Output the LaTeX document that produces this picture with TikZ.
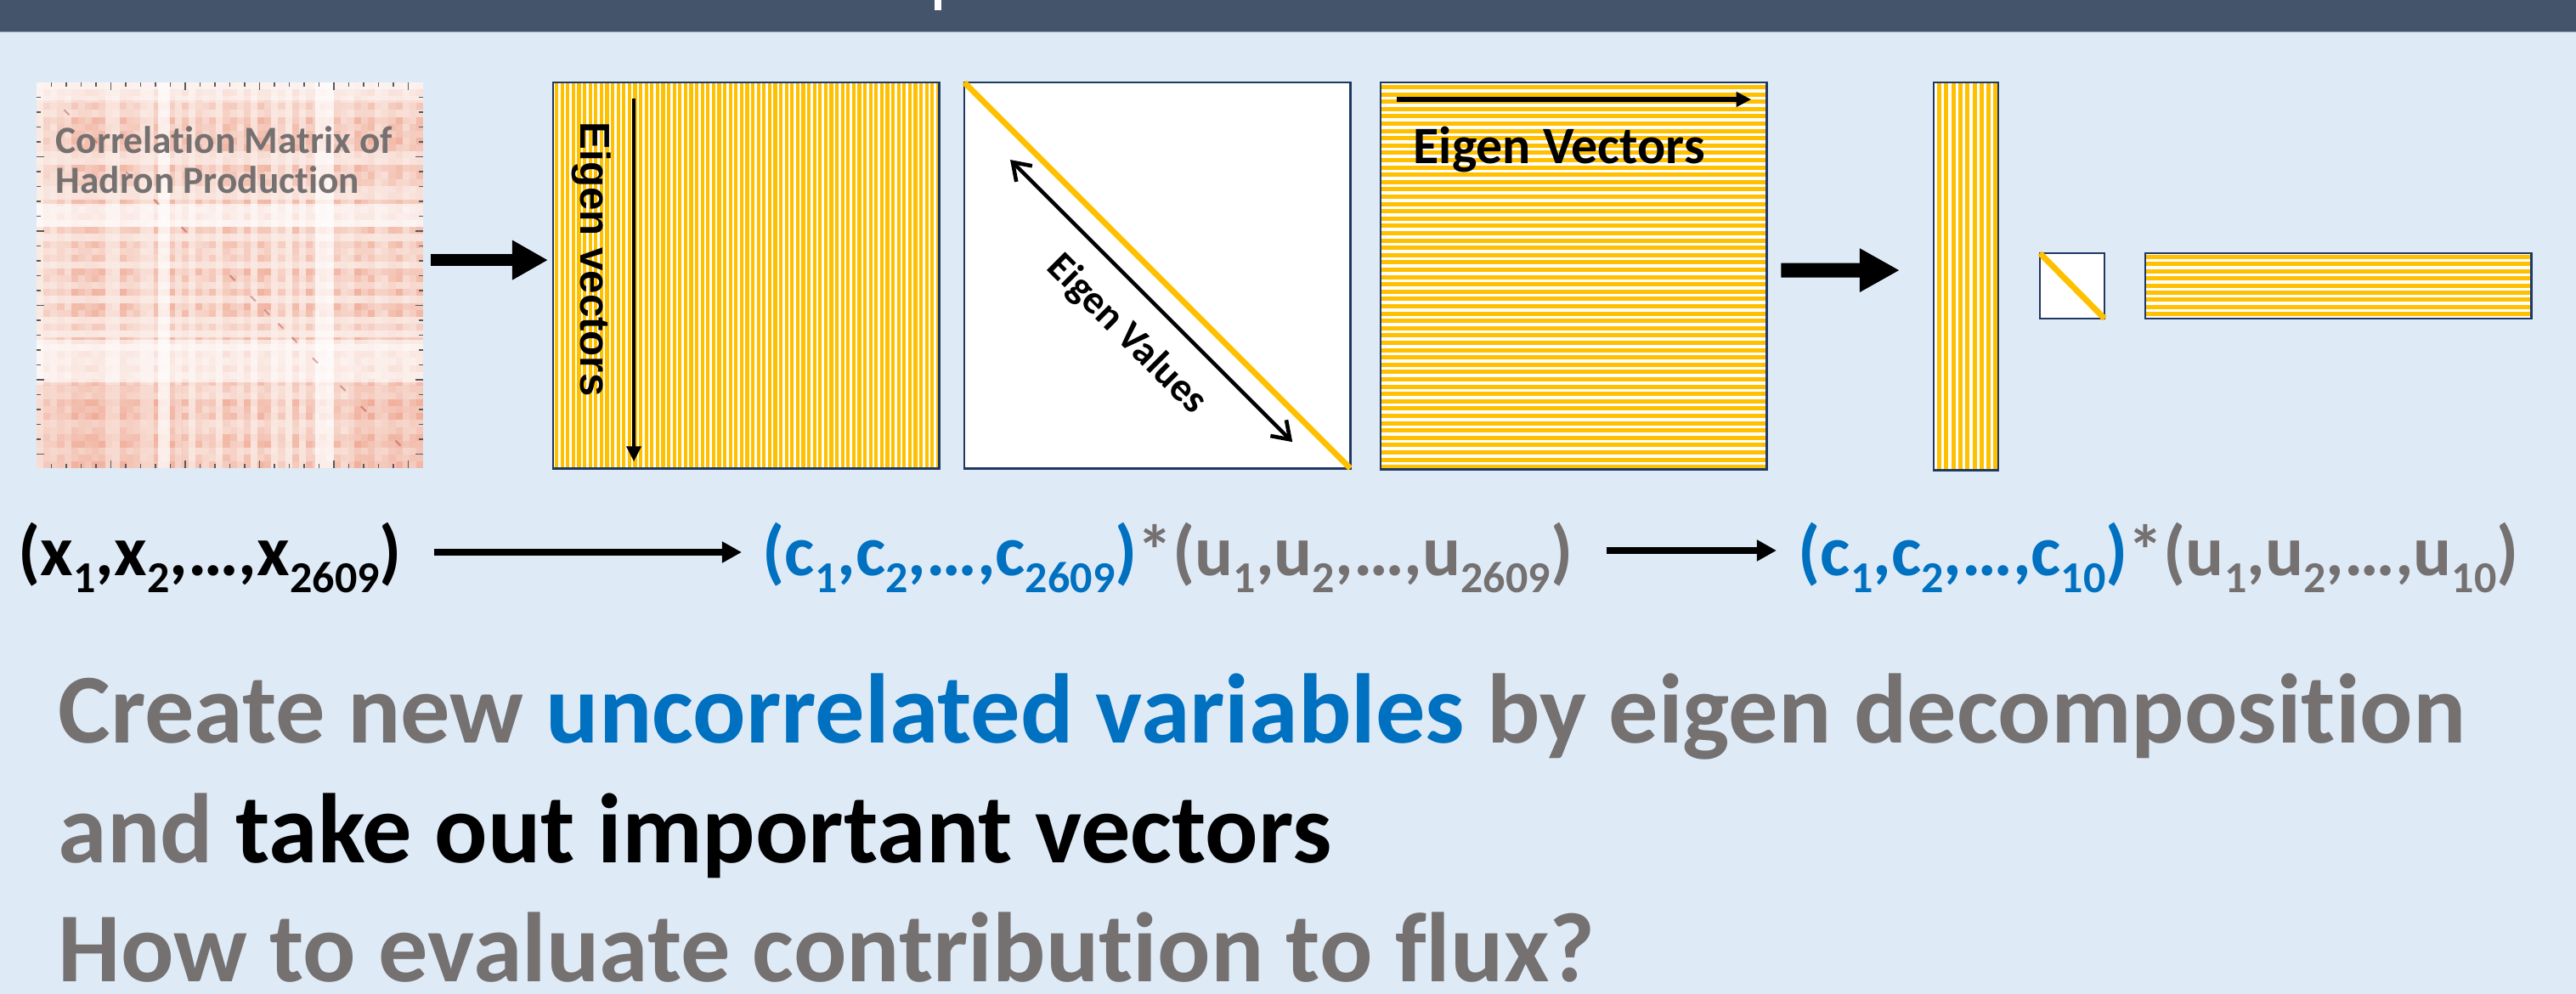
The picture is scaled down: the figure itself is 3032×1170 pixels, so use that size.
\documentclass[tikz,border=0pt]{standalone}
\usepackage{fontspec}
\setmainfont[Ligatures=NoCommon]{Carlito}
\newfontfamily\arialfont{Liberation Sans}
\usetikzlibrary{arrows.meta}
\definecolor{bgblue}{HTML}{DEEBF7}
\definecolor{barslate}{HTML}{44546A}
\definecolor{barline}{HTML}{8A9AB0}
\definecolor{gold}{HTML}{FFC000}
\definecolor{navy}{HTML}{1F3864}
\definecolor{txtgray}{HTML}{767171}
\definecolor{txtblue}{HTML}{0070C0}
\definecolor{salmon}{HTML}{EB8C70}
\definecolor{heatbase}{HTML}{FBEEE9}
\definecolor{tickgray}{HTML}{5A5A5A}
\newcommand\sbs[1]{\raisebox{-5.7pt}{\fontsize{14.8pt}{15pt}\selectfont #1}}
\newcommand\tiN{t\kern0pt i}
\begin{document}
\begin{tikzpicture}[x=0.01cm,y=-0.01cm,
  matbox/.style={draw=navy,line width=0.75pt,fill=white,inner sep=0pt,outer sep=0pt,anchor=north west},
  border/.style={draw=navy,line width=0.75pt},
  bigarrowA/.style={line width=4pt,-{Triangle[length=12pt,width=12.5pt]}},
  bigarrowB/.style={line width=4.8pt,-{Triangle[length=13.4pt,width=13.7pt]}},
  formarrow/.style={line width=2.3pt,-{Triangle[length=6.6pt,width=6.8pt]}},
  vecarrow/.style={line width=1.15pt,-{Triangle[length=5.1pt,width=4.8pt]}},
  hvecarrow/.style={line width=1.6pt,-{Triangle[length=5pt,width=4.8pt]}},
  valarrow/.style={line width=1.3pt,{Straight Barb[length=5.5pt,width=7.5pt]}-{Straight Barb[length=5.5pt,width=7.5pt]}},
  formula/.style={anchor=base west,inner sep=0pt,font=\bfseries\fontsize{23.9pt}{28pt}\selectfont},
  bigtext/.style={anchor=base west,inner sep=0pt,font=\bfseries\fontsize{33.1pt}{40pt}\selectfont},
  tick/.style={tickgray,line width=0.45pt}
]
\useasboundingbox (0,0) rectangle (3032,1170);
\fill[bgblue] (0,0) rectangle (3032,1170);
\fill[barslate] (0,0) rectangle (3032,37);
\draw[barline,line width=0.4pt] (0,37.6) -- (3032,37.6);
\fill[white] (1100,0) rectangle (1108,12);

% ---------- correlation heat map ----------
\node[inner sep=0pt,outer sep=0pt,anchor=north west,minimum width=4.55cm,minimum height=4.54cm,fill=heatbase] (heat) at (43,97) {};
\begin{scope}
\clip (43,97) rectangle (498,551);
\foreach \i in {0,...,55}{
  \pgfmathsetmacro\rowf{0.12+0.88*abs(sin(mod(\i*\i,97)*37.7+\i*113.3))}
  \foreach \j in {0,...,55}{
    \pgfmathsetmacro\hop{0.62*\rowf*(0.12+0.88*abs(sin(mod(\j*\j,97)*37.7+\j*113.3)))*(0.55+0.45*abs(sin(\i*53.3+\j*71.9)))}
    \fill[salmon,fill opacity=\hop] ({43+\i*8.125},{97+\j*8.11}) rectangle ++(8.125,8.11);
  }
}
\fill[salmon,fill opacity=0.12] (43,453) rectangle (215,551);
\fill[salmon,fill opacity=0.12] (410,453) rectangle (498,551);
\fill[white,fill opacity=0.7] (186,97) rectangle (200,551);
\fill[white,fill opacity=0.7] (371,97) rectangle (393,551);
\fill[white,fill opacity=0.65] (43,240) rectangle (498,267);
\fill[white,fill opacity=0.6] (43,400) rectangle (498,450);
\fill[white,fill opacity=0.4] (43,97) rectangle (498,118);
\foreach \d in {4,8,13,17,21,28,31,33,35,37,40,44,47,52}{
  \draw[red!55!black,opacity=0.3,line width=0.6pt] ({43+\d*8.125},{97+\d*8.11}) -- ++(6,6);
}
\end{scope}
\foreach \k in {1,...,25}{
  \pgfmathsetmacro\ticklen{ifthenelse(mod(\k,5)==0,9,5)}
  \draw[tick] ({43+\k*17.5},97) -- ++(0,\ticklen);
  \draw[tick] ({43+\k*17.5},551) -- ++(0,-\ticklen);
  \draw[tick] (43,{97+\k*17.5}) -- ++(\ticklen,0);
  \draw[tick] (498,{97+\k*17.5}) -- ++(-\ticklen,0);
}
\node[anchor=base west,inner sep=0pt,text=txtgray,font=\bfseries\fontsize{12.9pt}{14pt}\selectfont] (corr1) at (65,181) {Correla\tiN on Matrix of};
\node[anchor=base west,inner sep=0pt,text=txtgray,font=\bfseries\fontsize{12.9pt}{14pt}\selectfont] (corr2) at (65,228) {Hadron Produc\tiN on};

% ---------- eigen vectors (columns) ----------
\node[matbox,minimum width=4.54cm,minimum height=4.54cm] (m2) at (651,97) {};
\begin{scope}
\clip (652,98) rectangle (1104,550);
\foreach \k in {0,...,68}{\fill[gold] ({653+\k*6.6},97) rectangle ++(4.1,454);}
\end{scope}
\draw[border] (m2.north west) rectangle (m2.south east);
\draw[vecarrow] ([xshift=0.95cm,yshift=-0.19cm]m2.north west) -- ([xshift=0.95cm,yshift=0.08cm]m2.south west);
\node[rotate=-90,anchor=base,inner sep=0pt,font=\arialfont\bfseries\fontsize{14pt}{16pt}\selectfont] (evlbl) at (683,305) {Eigen vectors};

% ---------- eigen values ----------
\node[matbox,minimum width=4.54cm,minimum height=4.54cm] (m3) at (1135,97) {};
\draw[gold,line width=2pt] (m3.north west) -- (m3.south east);
\draw[valarrow] ([xshift=0.54cm,yshift=-0.91cm]m3.north west) -- ([xshift=-0.68cm,yshift=0.31cm]m3.south east);
\node[rotate=-45,inner sep=0pt,font=\bfseries\fontsize{13.4pt}{15pt}\selectfont] (evallbl) at (1326,394) {Eigen Values};

% ---------- eigen vectors (rows) ----------
\node[matbox,minimum width=4.54cm,minimum height=4.55cm] (m4) at (1625,97) {};
\begin{scope}
\clip (1626,98) rectangle (2078,551);
\foreach \k in {0,...,52}{\fill[gold] (1625,{100+\k*8.6}) rectangle ++(454,5);}
\end{scope}
\draw[border] (m4.north west) rectangle (m4.south east);
\draw[hvecarrow] ([xshift=0.19cm,yshift=-0.20cm]m4.north west) -- ([xshift=-0.18cm,yshift=-0.20cm]m4.north east);
\node[anchor=base west,inner sep=0pt,font=\bfseries\fontsize{17.6pt}{20pt}\selectfont] (evtlbl) at (1663,193) {Eigen Vectors};

% ---------- reduced matrices ----------
\node[matbox,minimum width=0.76cm,minimum height=4.56cm] (m5) at (2276,97) {};
\begin{scope}
\clip (2277,98) rectangle (2351,552);
\foreach \k in {0,...,8}{\fill[gold] ({2280+\k*8.3},97) rectangle ++(5,456);}
\end{scope}
\draw[border] (m5.north west) rectangle (m5.south east);

\node[matbox,minimum width=0.76cm,minimum height=0.77cm] (m6) at (2401,298) {};
\draw[gold,line width=2pt] (m6.north west) -- (m6.south east);

\node[matbox,minimum width=4.54cm,minimum height=0.77cm] (m7) at (2525,298) {};
\begin{scope}
\clip (2526,299) rectangle (2978,374);
\foreach \k in {0,...,8}{\fill[gold] (2525,{300+\k*8.4}) rectangle ++(454,5);}
\end{scope}
\draw[border] (m7.north west) rectangle (m7.south east);

% ---------- block arrows ----------
\draw[bigarrowA] ([xshift=0.09cm,yshift=0.18cm]heat.east) -- ([xshift=-0.06cm,yshift=0.18cm]m2.west);
\draw[bigarrowB] ([xshift=0.17cm,yshift=0.065cm]m4.east) -- ([xshift=-0.40cm,yshift=0.07cm]m5.west);

% ---------- formula row ----------
\node[formula] (xvec) at (21,677) {(x\sbs{1},x\sbs{2},…,x\sbs{2609})};
\node[formula,text=txtgray] (cvec) at (897,677) {\textcolor{txtblue}{(c\sbs{1},c\sbs{2},…,c\sbs{2609})}*(u\sbs{1},u\sbs{2},…,u\sbs{2609})};
\node[formula,text=txtgray] (ctvec) at (2116,677) {\textcolor{txtblue}{(c\sbs{1},c\sbs{2},…,c\sbs{10})}*(u\sbs{1},u\sbs{2},…,u\sbs{10})};
\draw[formarrow] ([xshift=0.37cm,yshift=0.27cm]xvec.base east) -- ([xshift=-0.24cm,yshift=0.27cm]cvec.base west);
\draw[formarrow] ([xshift=0.39cm,yshift=0.29cm]cvec.base east) -- ([xshift=-0.25cm,yshift=0.29cm]ctvec.base west);

% ---------- bottom text ----------
\node[bigtext,text=txtgray] (line1) at (68,874) {Create new \textcolor{txtblue}{uncorrelated variables} by eigen decomposi\tiN on};
\node[bigtext] (line2) at (68,1015) {\textcolor{txtgray}{and} take out important vectors};
\node[bigtext,text=txtgray] (line3) at (68,1155) {How to evaluate contribu\tiN on to flux?};
\end{tikzpicture}
\end{document}
